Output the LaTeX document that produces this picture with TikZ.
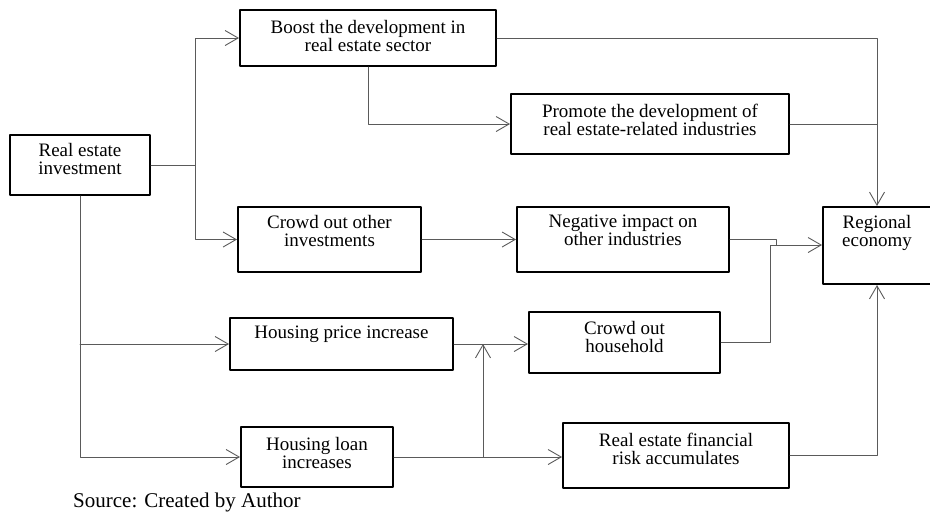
\documentclass[tikz,border=0pt]{standalone}
\usepackage{fontspec}
\setmainfont{Liberation Serif}
\usepackage{tikz}
\usetikzlibrary{arrows.meta,positioning}
\definecolor{ColLink}{RGB}{90,90,90}

\begin{document}
\begin{tikzpicture}[
  x=1pt, y=-1pt,
  >={Straight Barb[length=13pt,width=15pt]},
  line cap=round,
  line join=round,
  box/.style={draw=black, line width=2pt, inner sep=0pt},
  txt/.style={align=center, inner sep=0pt, font=\fontsize{19}{18}\selectfont},
  link/.style={draw=ColLink, line width=0.9pt},
  arr/.style={link, ->}
]
  \useasboundingbox (0,0) rectangle (930,512);

  % Boxes
  \node[box, minimum width=140, minimum height=60] (rei)     at (80,165)     {};
  \node[box, minimum width=256, minimum height=56] (boost)   at (368,38)     {};
  \node[box, minimum width=278, minimum height=60] (promote) at (650,124)    {};
  \node[box, minimum width=183, minimum height=65] (crowd)   at (329.5,239.5) {};
  \node[box, minimum width=212, minimum height=65] (neg)     at (623,239.5)  {};
  \node[box, minimum width=108, minimum height=77] (region)  at (877,245.5)  {};
  \node[box, minimum width=223, minimum height=52] (price)   at (341.5,344)  {};
  \node[box, minimum width=191, minimum height=61] (house)   at (624.5,342.5) {};
  \node[box, minimum width=152, minimum height=60] (loan)    at (317,457)    {};
  \node[box, minimum width=226, minimum height=65] (fin)     at (676,455.5)  {};

  % Box texts
  \node[txt, below=9pt of rei.north]      (rei-t)     {Real estate\\investment};
  \node[txt, below=11pt of boost.north]   (boost-t)   {Boost the development in\\real estate sector};
  \node[txt, below=11pt of promote.north] (promote-t) {Promote the development of\\real estate-related industries};
  \node[txt, below=9pt of crowd.north]    (crowd-t)   {Crowd out other\\investments};
  \node[txt, below=9pt of neg.north]      (neg-t)     {Negative impact on\\other industries};
  \node[txt, below=9pt of region.north]   (region-t)  {Regional\\economy};
  \node[txt, below=9pt of price.north]    (price-t)   {Housing price increase};
  \node[txt, below=10.5pt of house.north] (house-t)   {Crowd out\\household};
  \node[txt, below=11pt of loan.north]    (loan-t)    {Housing loan\\increases};
  \node[txt, below=10.5pt of fin.north]   (fin-t)     {Real estate financial\\risk accumulates};

  % Junction points
  \coordinate (split) at (195,165);
  \coordinate (up)    at (483,0);
  \coordinate (jn)    at (776,245);
  \coordinate (jh)    at (770,245);

  % Upper branch
  \draw[link] (rei.east) -- (split);
  \draw[arr]  (split) |- (boost.west);
  \draw[arr]  (split) |- (crowd.west);
  \draw[arr]  (boost.south) |- (promote.west);
  \draw[arr]  (boost.east) -| (region.north);
  \draw[link] (promote.east) -- (promote.east -| region.north);
  \draw[arr]  (crowd.east) -- (neg.west);
  \draw[link] (neg.east) -| (jn);
  \draw[arr]  (house.east) -| (jh) -- (jh -| region.west);

  % Lower branch
  \draw[arr]  (rei.south) |- (loan.west);
  \draw[arr]  (rei.south |- price.west) -- (price.west);
  \draw[arr]  (price.east) -- (price.east -| house.west);
  \draw[arr]  (loan.east) -- (loan.east -| fin.west);
  \draw[arr]  (loan.east -| up) -- (price.east -| up);
  \draw[arr]  (fin.east) -| (region.south);

  % Source
  \node[anchor=base west, inner sep=0pt, font=\fontsize{21}{22}\selectfont]
    (src) at (73,507) {Source: Created by Author};
\end{tikzpicture}
\end{document}
